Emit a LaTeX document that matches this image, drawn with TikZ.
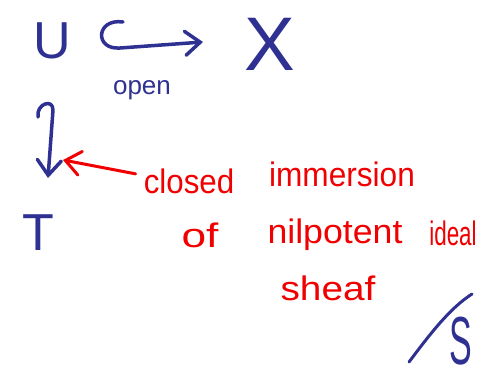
\documentclass[tikz,border=0pt]{standalone}
\usepackage{fontspec}
\setmainfont{Liberation Sans}
\usetikzlibrary{arrows.meta}
\definecolor{ink}{RGB}{46,49,146}
\definecolor{pen}{RGB}{240,0,0}
\tikzset{
  bluetext/.style={text=ink, inner sep=0pt, anchor=base, font=\fontsize{52}{52}\selectfont},
  redword/.style={text=pen, inner sep=0pt, anchor=base, font=\fontsize{34}{34}\selectfont},
  bluestroke/.style={draw=ink, line width=3.5pt, line cap=round, line join=round},
  redstroke/.style={draw=pen, line width=3pt, line cap=round, line join=round},
  barb/.style={-{Straight Barb[length=15pt, width=24pt, line cap=round]}},
}
\begin{document}
\begin{tikzpicture}[x=1pt, y=-1pt]
\useasboundingbox (0,0) rectangle (492,381);

% objects of the square
\node[bluetext] (U) at (52,58) {U};
\node[bluetext, font=\fontsize{76}{76}\selectfont] (X) at (270,70) {X};
\node[bluetext] (T) at (38,250) {T};
\node[bluetext, font=\fontsize{26}{26}\selectfont] (open) at (142,94) {open};

% open immersion U -> X (hooked)
\coordinate (hookUX) at (123,22);
\coordinate (tipUX) at (203,42);
\draw[bluestroke, barb] (hookUX) .. controls (96,18) and (94,50) .. (120,48) -- (tipUX);

% closed immersion down to T (hooked)
\coordinate (hookUT) at (38,117);
\coordinate (tipUT) at (48,178);
\draw[bluestroke, barb] (hookUT) .. controls (36,104) and (53,98) .. (53,110) -- (tipUT);

% red annotation
\node[redword] (closed) at (189,193) {\scalebox{0.92}[1]{closed}};
\node[redword] (immersion) at (342,186) {\scalebox{0.93}[1]{immersion}};
\node[redword] (of) at (200,247) {\scalebox{1.3}[1]{of}};
\node[redword] (nilpotent) at (335,243) {\scalebox{1.05}[1]{nilpotent}};
\node[redword] (ideal) at (453,245) {\scalebox{0.66}[1]{ideal}};
\node[redword] (sheaf) at (328,300) {\scalebox{1.14}[1]{sheaf}};

\coordinate (redtip) at (63,160);
\draw[redstroke, barb] ([shift={(-8,-7)}]closed.west) -- (redtip);

% base S
\draw[bluestroke, line width=3pt] (409,362) .. controls (430,334) and (450,308) .. (472,294);
\node[bluetext, font=\fontsize{68}{68}\selectfont] (S) at (461,364) {\scalebox{0.5}[1]{S}};
\end{tikzpicture}
\end{document}
